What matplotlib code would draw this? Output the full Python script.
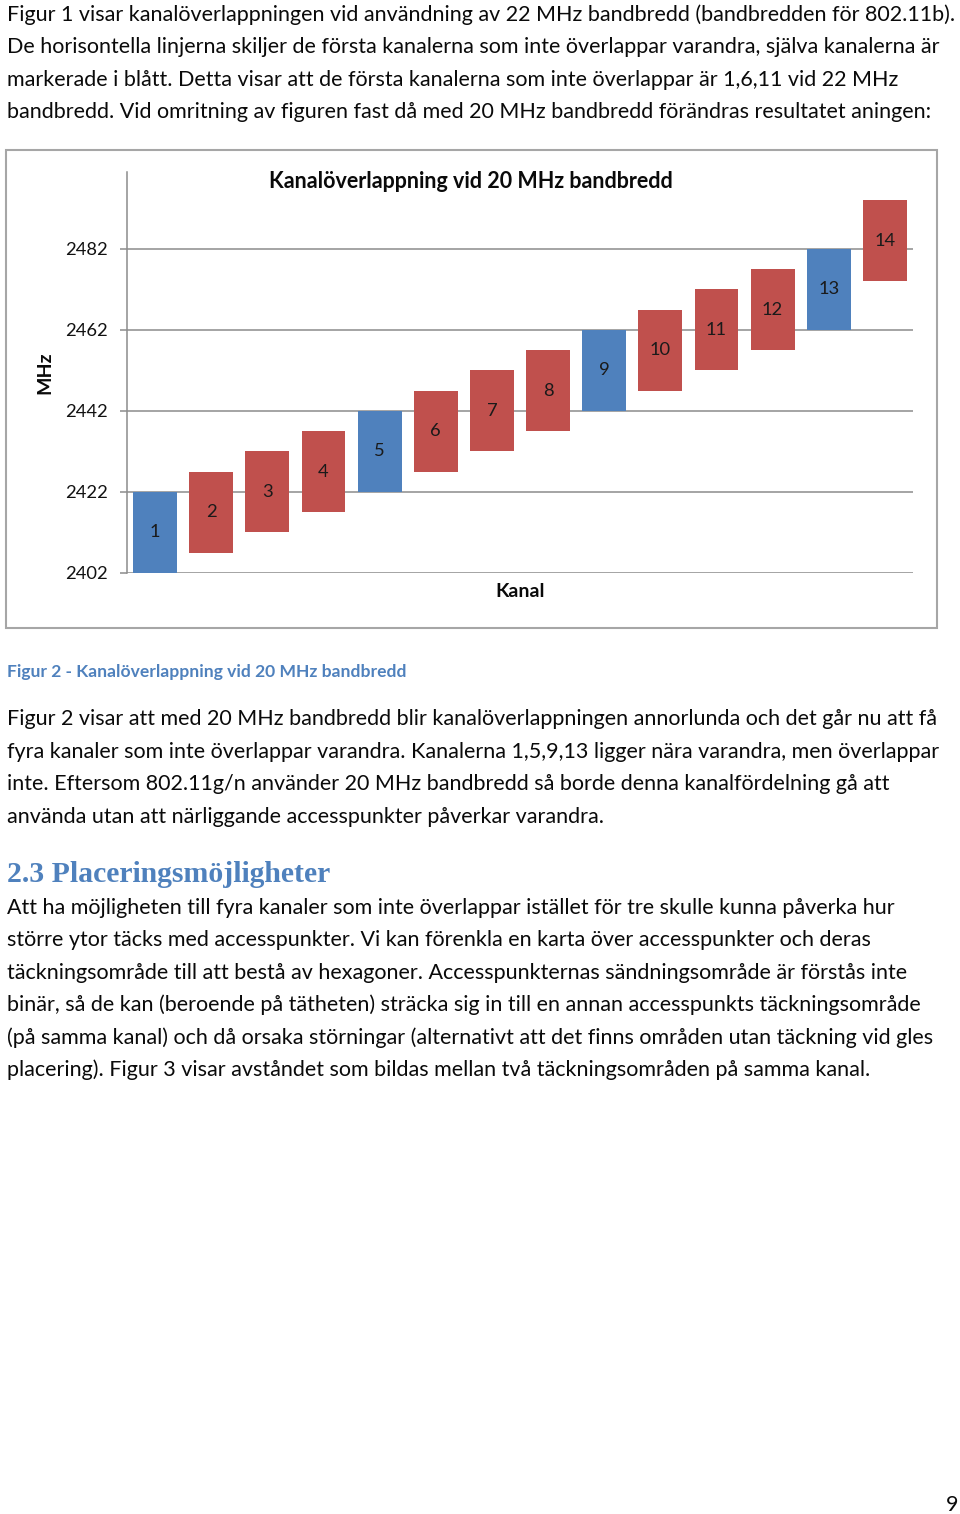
import matplotlib.pyplot as plt
from matplotlib.patches import Rectangle

# Chart data: channel number and its lower/upper frequency (MHz)
channels = [1, 2, 3, 4, 5, 6, 7, 8, 9, 10, 11, 12, 13, 14]
freq_low = [2402, 2407, 2412, 2417, 2422, 2427, 2432, 2437, 2442, 2447, 2452, 2457, 2462, 2474]
freq_high = [2422, 2427, 2432, 2437, 2442, 2447, 2452, 2457, 2462, 2467, 2472, 2477, 2482, 2494]
non_overlapping = [1, 5, 9, 13]
y_ticks = [2402, 2422, 2442, 2462, 2482]

# Page text
para1 = [
    "Figur 1 visar kanalöverlappningen vid användning av 22 MHz bandbredd (bandbredden för 802.11b).",
    "De horisontella linjerna skiljer de första kanalerna som inte överlappar varandra, själva kanalerna är",
    "markerade i blått. Detta visar att de första kanalerna som inte överlappar är 1,6,11 vid 22 MHz",
    "bandbredd. Vid omritning av figuren fast då med 20 MHz bandbredd förändras resultatet aningen:",
]
para2 = [
    "Figur 2 visar att med 20 MHz bandbredd blir kanalöverlappningen annorlunda och det går nu att få",
    "fyra kanaler som inte överlappar varandra. Kanalerna 1,5,9,13 ligger nära varandra, men överlappar",
    "inte. Eftersom 802.11g/n använder 20 MHz bandbredd så borde denna kanalfördelning gå att",
    "använda utan att närliggande accesspunkter påverkar varandra.",
]
para3 = [
    "Att ha möjligheten till fyra kanaler som inte överlappar istället för tre skulle kunna påverka hur",
    "större ytor täcks med accesspunkter. Vi kan förenkla en karta över accesspunkter och deras",
    "täckningsområde till att bestå av hexagoner. Accesspunkternas sändningsområde är förstås inte",
    "binär, så de kan (beroende på tätheten) sträcka sig in till en annan accesspunkts täckningsområde",
    "(på samma kanal) och då orsaka störningar (alternativt att det finns områden utan täckning vid gles",
    "placering). Figur 3 visar avståndet som bildas mellan två täckningsområden på samma kanal.",
]
caption = "Figur 2 - Kanalöverlappning vid 20 MHz bandbredd"
heading = "2.3 Placeringsmöjligheter"

W, H = 960, 1514
BLUE = '#4F81BD'
RED = '#C0504D'
GRID = '#8C8C8C'
plt.rcParams['font.family'] = ['Lato', 'DejaVu Sans']

fig = plt.figure(figsize=(W / 100, H / 100), dpi=100)

#helper to place text in pixel coordinates (top-left origin)
def page_text(x, y, s, **kw):
    fig.text(x / W, 1 - y / H, s, **kw)

body = dict(fontsize=15.5, color='#0a0a0a', va='center', ha='left')
for i, line in enumerate(para1):
    page_text(7, 15 + i * 32.4, line, **body)
for i, line in enumerate(para2):
    page_text(7, 719 + i * 32.6, line, **body)
for i, line in enumerate(para3):
    page_text(7, 908 + i * 32.4, line, **body)

page_text(7, 672, caption, fontsize=12.6, fontweight='bold', color=BLUE, va='center')
page_text(7, 874, heading, fontsize=21.4, fontweight='bold', color=BLUE, va='center',
          family=['Liberation Serif', 'DejaVu Serif'])
page_text(952, 1505, "9", fontsize=15.5, color='#0a0a0a', va='center', ha='center')

#chart frame
fig.patches.append(Rectangle((6 / W, 1 - 628 / H), 931 / W, 478 / H, transform=fig.transFigure,
                             fill=False, edgecolor='#A6A6A6', linewidth=1.5))

#chart axes
ax = fig.add_axes([127 / W, 1 - 573 / H, 786 / W, (573 - 172) / H])
colors = [BLUE if c in non_overlapping else RED for c in channels]
heights = [hi - lo for lo, hi in zip(freq_low, freq_high)]
ax.bar(channels, heights, bottom=freq_low, width=0.78, color=colors, zorder=3)
for c, lo, hi in zip(channels, freq_low, freq_high):
    ax.text(c, (lo + hi) / 2, str(c), ha='center', va='center', fontsize=13.2, color='#1a1a1a', zorder=4)

ax.set_xlim(0.5, 14.5)
ax.set_ylim(2402, 2501)
ax.set_yticks(y_ticks)
ax.set_xticks([])
ax.yaxis.grid(True, color=GRID, linewidth=1.1, zorder=0)
ax.tick_params(axis='y', length=5, width=1.1, color=GRID, labelsize=13.2, pad=9, labelcolor='#111111')
for side in ['top', 'right', 'bottom']:
    ax.spines[side].set_visible(False)
ax.spines['left'].set_color(GRID)
ax.spines['left'].set_linewidth(1.1)
ax.set_facecolor('none')

page_text(471, 182, "Kanalöverlappning vid 20 MHz bandbredd", fontsize=15.5, fontweight='bold',
          ha='center', va='center', color='#0a0a0a')
page_text(520, 591, "Kanal", fontsize=14, fontweight='bold', ha='center', va='center', color='#0a0a0a')
page_text(45, 373, "MHz", fontsize=14, fontweight='bold', ha='center', va='center', rotation=90, color='#0a0a0a')

fig.savefig('out.png', dpi=100)
